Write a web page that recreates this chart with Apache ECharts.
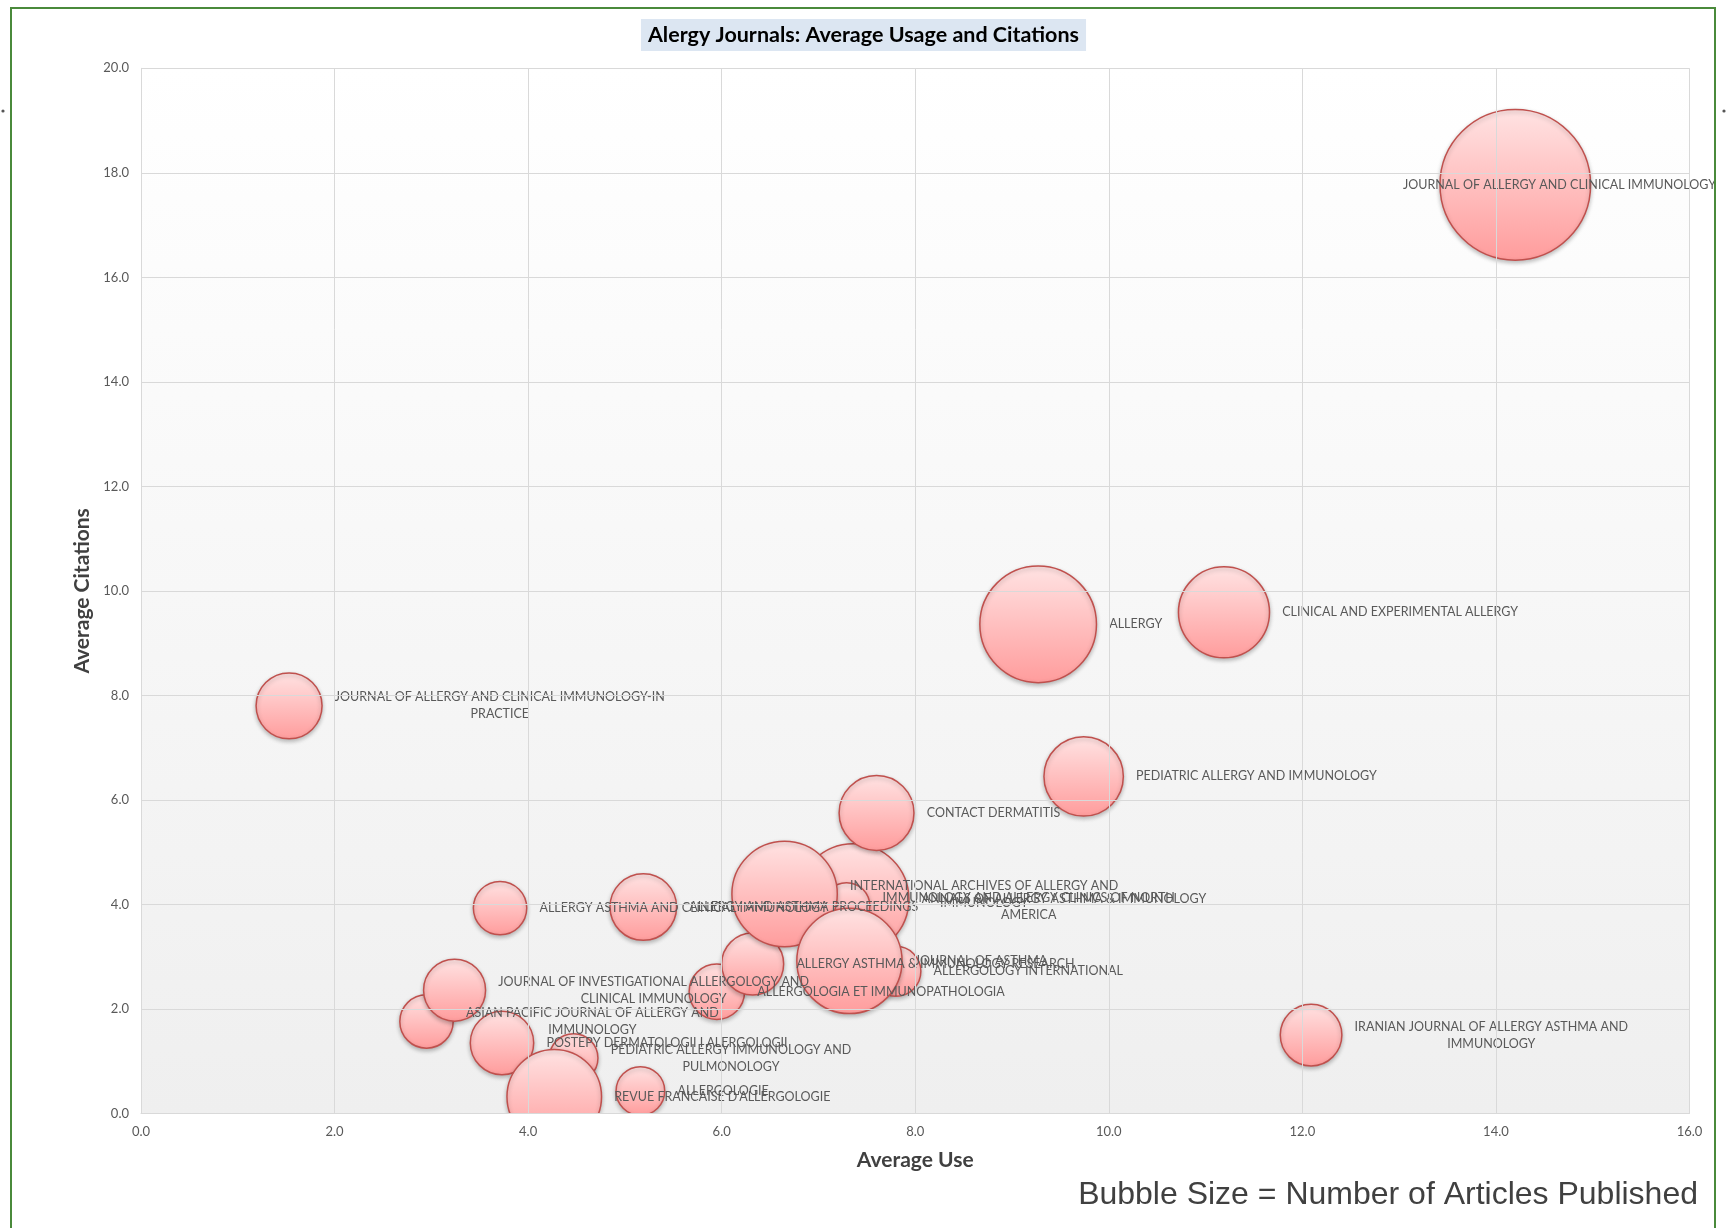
<!DOCTYPE html>
<html>
<head>
<meta charset="utf-8">
<script src="https://cdn.jsdelivr.net/npm/echarts@6/dist/echarts.min.js"></script>
<style>
html,body{margin:0;padding:0;background:#ffffff;}
#chart{width:1727px;height:1228px;}
</style>
</head>
<body>
<div id="chart"></div>
<script>
// ---- data (drawing order: later items are drawn on top) ----
const journals = [
  "ASIAN PACIFIC JOURNAL OF ALLERGY AND IMMUNOLOGY",
  "JOURNAL OF INVESTIGATIONAL ALLERGOLOGY AND CLINICAL IMMUNOLOGY",
  "POSTEPY DERMATOLOGII I ALERGOLOGII",
  "PEDIATRIC ALLERGY IMMUNOLOGY AND PULMONOLOGY",
  "REVUE FRANCAISE D'ALLERGOLOGIE",
  "ALLERGOLOGIE",
  "ALLERGOLOGIA ET IMMUNOPATHOLOGIA",
  "ALLERGY ASTHMA & IMMUNOLOGY RESEARCH",
  "ALLERGY ASTHMA AND CLINICAL IMMUNOLOGY",
  "ALLERGY AND ASTHMA PROCEEDINGS",
  "ANNALS OF ALLERGY ASTHMA & IMMUNOLOGY",
  "IMMUNOLOGY AND ALLERGY CLINICS OF NORTH AMERICA",
  "INTERNATIONAL ARCHIVES OF ALLERGY AND IMMUNOLOGY",
  "ALLERGOLOGY INTERNATIONAL",
  "JOURNAL OF ASTHMA",
  "CONTACT DERMATITIS",
  "PEDIATRIC ALLERGY AND IMMUNOLOGY",
  "ALLERGY",
  "CLINICAL AND EXPERIMENTAL ALLERGY",
  "JOURNAL OF ALLERGY AND CLINICAL IMMUNOLOGY-IN PRACTICE",
  "IRANIAN JOURNAL OF ALLERGY ASTHMA AND IMMUNOLOGY",
  "JOURNAL OF ALLERGY AND CLINICAL IMMUNOLOGY"
];
const avgUse = [2.95, 3.24, 3.73, 4.47, 4.27, 5.16, 5.95, 6.32, 3.71, 5.19, 7.36, 7.29, 6.65, 7.80, 7.32, 7.60, 9.74, 9.27, 11.19, 1.53, 12.09, 14.20];
const avgCitations = [1.76, 2.36, 1.35, 1.06, 0.32, 0.43, 2.33, 2.86, 3.93, 3.95, 4.10, 3.97, 4.20, 2.72, 2.92, 5.75, 6.45, 9.36, 9.59, 7.80, 1.50, 17.77];
const articlesPublished = [178, 240, 251, 148, 559, 148, 192, 240, 178, 277, 773, 136, 694, 156, 692, 350, 394, 850, 518, 272, 237, 1418];

const xTickValues = [0, 2, 4, 6, 8, 10, 12, 14, 16];
const yTickValues = [0, 2, 4, 6, 8, 10, 12, 14, 16, 18, 20];

const chartTitle = "Alergy Journals: Average Usage and Citations";
const xAxisTitle = "Average Use";
const yAxisTitle = "Average Citations";
const noteText = "Bubble Size = Number of Articles Published";

// ---- label wrapping (Excel-like: wrap long labels, centre the lines) ----
const LABEL_FONT = 'Lato';
const LABEL_SIZE = 12.5;
const WRAP_WIDTH = 334;
const measureCtx = document.createElement('canvas').getContext('2d');
measureCtx.font = LABEL_SIZE + 'px ' + LABEL_FONT;
function wrapText(t) {
  const words = t.split(' ');
  const lines = [];
  let cur = '';
  for (const w of words) {
    const test = cur ? cur + ' ' + w : w;
    if (cur && measureCtx.measureText(test).width > WRAP_WIDTH) {
      lines.push(cur);
      cur = w;
    } else {
      cur = test;
    }
  }
  if (cur) lines.push(cur);
  return lines;
}

const seriesData = journals.map((n, i) => ({
  name: n,
  value: [avgUse[i], avgCitations[i], articlesPublished[i]]
}));

const chart = echarts.init(document.getElementById('chart'), null, {renderer: 'canvas'});

const GRID = {left: 141, right: 37.5, top: 68.3, bottom: 114.5};

const axisLabelStyle = {
  color: '#595959', fontFamily: 'Lato', fontSize: 13, margin: 12,
  formatter: v => v.toFixed(1)
};
const axisNameStyle = {fontFamily: 'Lato', fontWeight: 'bold', fontSize: 21, color: '#404040'};

chart.setOption({
  animation: false,
  backgroundColor: '#ffffff',
  title: {
    text: chartTitle,
    left: 'center',
    top: 19,
    backgroundColor: '#dce6f2',
    padding: [5, 7],
    textStyle: {fontFamily: 'Lato', fontWeight: 'bold', fontSize: 21.5, lineHeight: 22, color: '#000000'}
  },
  grid: {
    left: GRID.left, right: GRID.right, top: GRID.top, bottom: GRID.bottom,
    show: true, borderWidth: 0,
    backgroundColor: {
      type: 'linear', x: 0, y: 0, x2: 0, y2: 1,
      colorStops: [{offset: 0, color: '#ffffff'}, {offset: 1, color: '#efefef'}]
    }
  },
  xAxis: {
    type: 'value', min: xTickValues[0], max: xTickValues[xTickValues.length - 1],
    interval: xTickValues[1] - xTickValues[0],
    z: 10,
    name: xAxisTitle, nameLocation: 'middle', nameGap: 36, nameTextStyle: axisNameStyle,
    axisLine: {show: true, lineStyle: {color: '#d9d9d9'}},
    axisTick: {show: false},
    axisLabel: axisLabelStyle,
    splitLine: {show: true, lineStyle: {color: '#d9d9d9', width: 1}}
  },
  yAxis: {
    type: 'value', min: yTickValues[0], max: yTickValues[yTickValues.length - 1],
    interval: yTickValues[1] - yTickValues[0],
    z: 10,
    name: yAxisTitle, nameLocation: 'middle', nameGap: 42, nameTextStyle: axisNameStyle,
    axisLine: {show: true, lineStyle: {color: '#d9d9d9'}},
    axisTick: {show: false},
    axisLabel: axisLabelStyle,
    splitLine: {show: true, lineStyle: {color: '#d9d9d9', width: 1}}
  },
  series: [{
    type: 'scatter',
    z: 2,
    data: seriesData,
    symbol: 'circle',
    symbolSize: v => 4 * Math.sqrt(v[2]),
    itemStyle: {
      opacity: 1,
      color: {
        type: 'linear', x: 0, y: 0, x2: 0, y2: 1,
        colorStops: [{offset: 0, color: '#ffe3e3'}, {offset: 1, color: '#ff9c9c'}]
      },
      borderColor: '#c0504d',
      borderWidth: 1.5,
      shadowBlur: 4,
      shadowOffsetY: 2,
      shadowColor: 'rgba(0,0,0,0.25)'
    },
    label: {
      show: true,
      position: 'right',
      distance: 12,
      formatter: p => wrapText(p.name).map(l => '{c|' + l + '}').join('\n'),
      rich: {
        c: {align: 'center', fontFamily: LABEL_FONT, fontSize: LABEL_SIZE, color: '#595959', lineHeight: 17}
      }
    },
    labelLayout: p => {
      const r = p.labelRect;
      const lim = 1716;
      if (r.x + r.width > lim) {
        return {x: lim - r.width, y: r.y + r.height / 2, align: 'left', verticalAlign: 'middle'};
      }
      return {};
    },
    emphasis: {disabled: true}
  }],
  graphic: [
    {
      // Excel clips bubbles at the plot area's bottom edge
      type: 'rect', silent: true, z: 5,
      shape: {x: 12, y: 1228 - GRID.bottom + 0.5, width: 1702, height: GRID.bottom},
      style: {fill: '#ffffff'}
    },
    {
      type: 'rect', silent: true, z: 100,
      shape: {x: 11, y: 8, width: 1704, height: 1250},
      style: {fill: 'transparent', stroke: '#4a8a3b', lineWidth: 2}
    },
    {type: 'circle', silent: true, z: 100, shape: {cx: 3, cy: 111, r: 1.6}, style: {fill: '#555555'}},
    {type: 'circle', silent: true, z: 100, shape: {cx: 1724, cy: 111, r: 1.6}, style: {fill: '#555555'}},
    {
      type: 'text', silent: true, z: 100,
      x: 1698, y: 1195,
      style: {
        text: noteText, align: 'right', verticalAlign: 'middle',
        font: '32px "Liberation Sans", Arial, sans-serif', fill: '#404040'
      }
    }
  ]
});
</script>
</body>
</html>
